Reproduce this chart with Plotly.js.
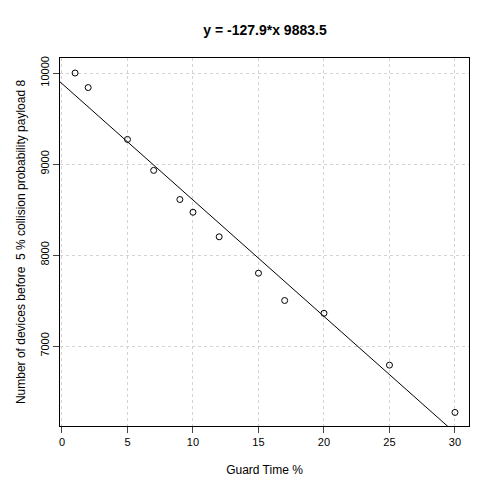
<!DOCTYPE html>
<html><head><script src="https://cdn.plot.ly/plotly-3.0.1.min.js"></script></head>
<body style="margin:0"><div id="graph" style="width:500px;height:500px"></div>
<script>
const guardTime = [1, 2, 5, 7, 9, 10, 12, 15, 17, 20, 25, 30]
const devices = [10000, 9840, 9270, 8930, 8610, 8470, 8200, 7800, 7500, 7360, 6790, 6270]
const slope = -127.9
const intercept = 9883.5
const xRange = [-0.15, 31.07]
const yRange = [6121, 10165]
const yTicks = [7000, 8000, 9000, 10000]

// fit line across the plot width
const fitX = [xRange[0], xRange[1]]
const fitY = fitX.map(x => intercept + slope * x)

const traces = [
  {x: guardTime, y: devices, mode: 'markers', type: 'scatter',
   marker: {symbol: 'circle-open', size: 6, color: 'black', line: {width: 1}}},
  {x: fitX, y: fitY, mode: 'lines', type: 'scatter', line: {color: 'black', width: 1}}
]

const layout = {
  width: 500, height: 500, showlegend: false,
  margin: {l: 60, r: 31, t: 58, b: 74},
  paper_bgcolor: 'white', plot_bgcolor: 'white',
  font: {family: 'Liberation Sans, Arial', size: 11, color: 'black'},
  title: {text: '<b>y = -127.9*x 9883.5</b>', x: 0.53, y: 0.95, font: {size: 14}},
  xaxis: {range: xRange, tickvals: [0, 5, 10, 15, 20, 25, 30], ticks: 'outside', ticklen: 6,
    showline: true, mirror: true, linecolor: 'black', zeroline: false,
    showgrid: true, gridcolor: '#d3d3d3', griddash: 'dot',
    title: {text: 'Guard Time %', standoff: 18, font: {size: 12}}},
  yaxis: {range: yRange, tickvals: yTicks, ticktext: yTicks.map(String), ticks: 'outside', ticklen: 6,
    tickangle: -90, showline: true, mirror: true, linecolor: 'black', zeroline: false,
    showgrid: true, gridcolor: '#d3d3d3', griddash: 'dot',
    title: {text: 'Number of devices before  5 % collision probability payload 8', standoff: 10, font: {size: 12}}}
}
Plotly.newPlot('graph', traces, layout, {displayModeBar: false})
</script></body></html>
